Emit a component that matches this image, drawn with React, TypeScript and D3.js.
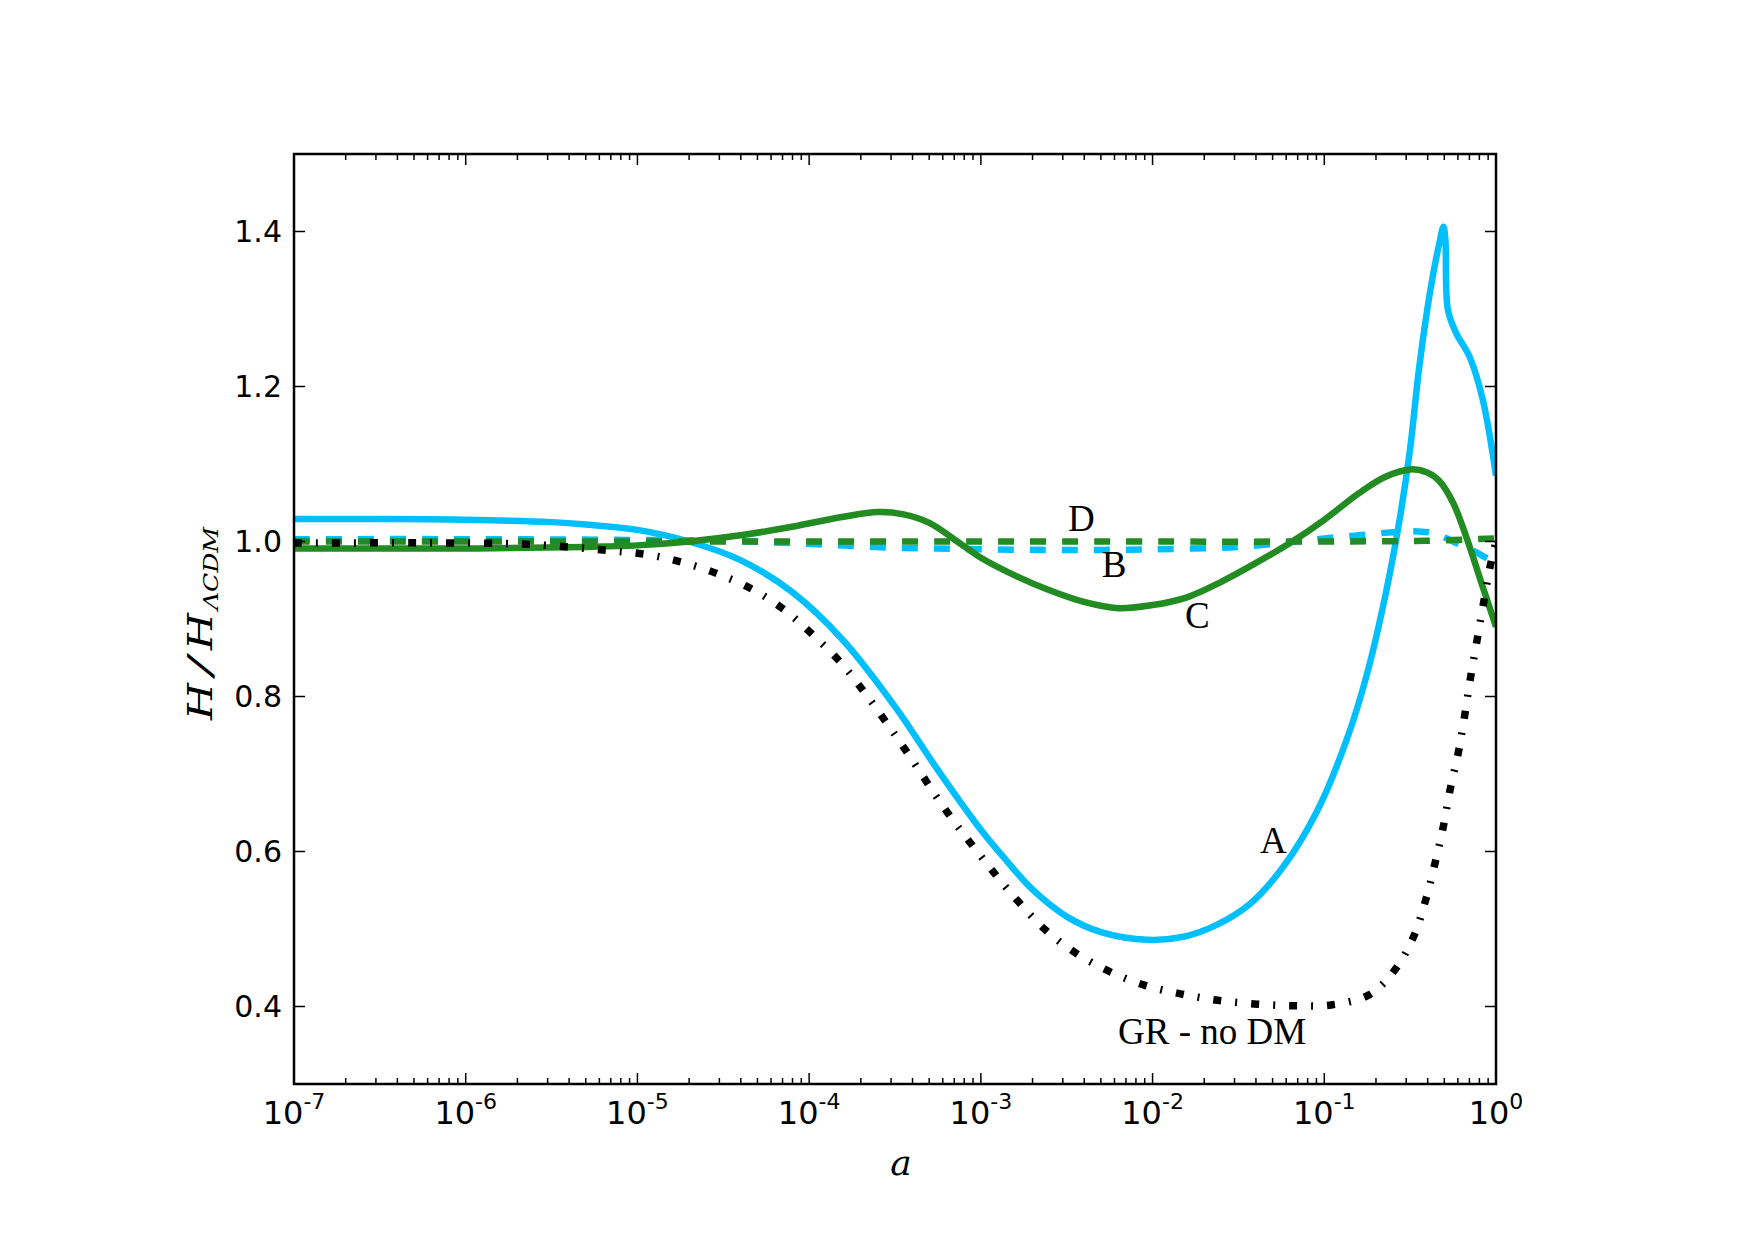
import React, { useEffect, useRef } from 'react';
import * as d3 from 'd3';

// curve data: x is log10(a), y is H/H_LCDM
const LOG_A_A = [-7, -6.5, -6, -5.5, -5.3, -5, -4.7, -4.4, -4.1, -3.8, -3.5, -3.25, -3, -2.85, -2.7, -2.5, -2.3, -2.03, -1.82, -1.63, -1.43, -1.24, -1.04, -0.87, -0.75, -0.64, -0.56, -0.5, -0.45, -0.4, -0.37, -0.33, -0.306, -0.295, -0.28, -0.232, -0.155, -0.077, 0];
const VAL_A = [1.029, 1.029, 1.028, 1.025, 1.022, 1.015, 1.0, 0.976, 0.935, 0.872, 0.787, 0.705, 0.628, 0.588, 0.551, 0.516, 0.496, 0.486, 0.49, 0.505, 0.533, 0.58, 0.653, 0.744, 0.83, 0.935, 1.03, 1.12, 1.22, 1.3, 1.34, 1.385, 1.406, 1.39, 1.299, 1.269, 1.239, 1.183, 1.085];

const LOG_A_B = [-7, -6, -5, -4.5, -4, -3.5, -3, -2.5, -2, -1.5, -1.2, -1, -0.8, -0.6, -0.45, -0.35, -0.25, -0.15, -0.05, 0];
const VAL_B = [1.003, 1.003, 1.002, 1.001, 0.997, 0.992, 0.99, 0.989, 0.99, 0.993, 0.999, 1.004, 1.008, 1.012, 1.013, 1.01, 1.0, 0.99, 0.978, 0.972];

const LOG_A_C = [-7, -6, -5.3, -5, -4.7, -4.4, -4.1, -3.8, -3.6, -3.45, -3.3, -3.15, -3, -2.8, -2.6, -2.4, -2.2, -2, -1.8, -1.6, -1.4, -1.2, -1, -0.8, -0.65, -0.5, -0.4, -0.33, -0.25, -0.17, -0.09, 0];
const VAL_C = [0.991, 0.991, 0.993, 0.995, 1.0, 1.008, 1.019, 1.032, 1.038, 1.035, 1.024, 1.002, 0.979, 0.956, 0.937, 0.922, 0.914, 0.918, 0.928, 0.948, 0.972, 0.998, 1.028, 1.062, 1.083, 1.093, 1.089, 1.078, 1.05, 1.004, 0.95, 0.89];

const LOG_A_D = [-7, -3, -1, -0.4, 0];
const VAL_D = [1.0, 1.0, 1.0, 1.001, 1.004];

const LOG_A_GR = [-7, -6, -5.6, -5.15, -4.94, -4.735, -4.53, -4.32, -4.14, -3.976, -3.813, -3.68, -3.546, -3.427, -3.2, -3, -2.8, -2.62, -2.44, -2.25, -2.04, -1.83, -1.62, -1.39, -1.17, -0.96, -0.74, -0.59, -0.48, -0.41, -0.355, -0.307, -0.268, -0.22, -0.19, -0.15, -0.11, -0.073, -0.035, 0];
const VAL_GR = [0.998, 0.998, 0.996, 0.988, 0.983, 0.973, 0.958, 0.937, 0.911, 0.879, 0.843, 0.806, 0.765, 0.727, 0.652, 0.594, 0.54, 0.498, 0.468, 0.445, 0.427, 0.416, 0.408, 0.403, 0.401, 0.402, 0.415, 0.447, 0.49, 0.537, 0.585, 0.632, 0.679, 0.727, 0.765, 0.822, 0.873, 0.92, 0.967, 1.0];

// curve labels, placed in data coordinates (log10 a, value)
const LABEL_TEXT = ['D', 'B', 'C', 'A', 'GR - no DM'];
const LABEL_LOG_A = [-2.492, -2.296, -1.811, -1.374, -2.201];
const LABEL_VAL = [1.014, 0.9545, 0.888, 0.598, 0.352];

const Y_TICKS = [0.4, 0.6, 0.8, 1.0, 1.2, 1.4];
const X_EXPONENTS = [-7, -6, -5, -4, -3, -2, -1, 0];

const W = 1755;
const H = 1240;
const M = { left: 294, right: 1496, top: 154, bottom: 1084 };

export default function App() {
  const svgRef = useRef<SVGSVGElement | null>(null);

  useEffect(() => {
    const svgEl = svgRef.current;
    if (!svgEl) return;
    const svg = d3.select(svgEl);
    svg.selectAll('*').remove();

    const x = d3.scaleLog().domain([1e-7, 1]).range([M.left, M.right]);
    const y = d3.scaleLinear().domain([0.3, 1.5]).range([M.bottom, M.top]);

    svg.append('rect').attr('width', W).attr('height', H).attr('fill', '#fff');

    svg
      .append('clipPath')
      .attr('id', 'plot-clip')
      .append('rect')
      .attr('x', M.left)
      .attr('y', M.top)
      .attr('width', M.right - M.left)
      .attr('height', M.bottom - M.top);

    const line = d3
      .line<[number, number]>()
      .x(d => x(Math.pow(10, d[0])))
      .y(d => y(d[1]))
      .curve(d3.curveCatmullRom.alpha(0.5));

    const series = [
      { lx: LOG_A_A, v: VAL_A, color: '#00bfff', width: 6.5, dash: null },
      { lx: LOG_A_B, v: VAL_B, color: '#00bfff', width: 6.5, dash: '16 16' },
      { lx: LOG_A_C, v: VAL_C, color: '#228b22', width: 6.5, dash: null },
      { lx: LOG_A_D, v: VAL_D, color: '#228b22', width: 6.5, dash: '16 16' },
      { lx: LOG_A_GR, v: VAL_GR, color: '#000', width: 7.5, dash: '8 14 2 14' },
    ];

    const lines = svg.append('g').attr('clip-path', 'url(#plot-clip)');
    series.forEach(s => {
      const pts = s.lx.map((l, i) => [l, s.v[i]] as [number, number]);
      const p = lines
        .append('path')
        .attr('d', line(pts))
        .attr('fill', 'none')
        .attr('stroke', s.color)
        .attr('stroke-width', s.width)
        .attr('stroke-linejoin', 'round');
      if (s.dash) p.attr('stroke-dasharray', s.dash);
    });

    // Frame
    svg
      .append('rect')
      .attr('x', M.left)
      .attr('y', M.top)
      .attr('width', M.right - M.left)
      .attr('height', M.bottom - M.top)
      .attr('fill', 'none')
      .attr('stroke', '#000')
      .attr('stroke-width', 2.5);

    // Ticks (inward, all four sides)
    const ticks = svg.append('g').attr('stroke', '#000').attr('stroke-width', 1.5);
    const majorLen = 11;
    const minorLen = 6;
    x.ticks().forEach(t => {
      const isMajor = Math.abs(Math.log10(t) - Math.round(Math.log10(t))) < 1e-9;
      const len = isMajor ? majorLen : minorLen;
      const px = x(t);
      ticks.append('line').attr('x1', px).attr('x2', px).attr('y1', M.bottom).attr('y2', M.bottom - len);
      ticks.append('line').attr('x1', px).attr('x2', px).attr('y1', M.top).attr('y2', M.top + len);
    });
    Y_TICKS.forEach(t => {
      const py = y(t);
      ticks.append('line').attr('x1', M.left).attr('x2', M.left + majorLen).attr('y1', py).attr('y2', py);
      ticks.append('line').attr('x1', M.right).attr('x2', M.right - majorLen).attr('y1', py).attr('y2', py);
    });

    // Y tick labels
    svg
      .append('g')
      .selectAll('text')
      .data(Y_TICKS)
      .enter()
      .append('text')
      .attr('x', M.left - 12)
      .attr('y', d => y(d) + 10)
      .attr('text-anchor', 'end')
      .attr('font-family', 'DejaVu Sans')
      .attr('font-size', 30)
      .attr('fill', '#000')
      .text(d => d.toFixed(1));

    // X tick labels 10^n
    const xl = svg
      .append('g')
      .selectAll('text')
      .data(X_EXPONENTS)
      .enter()
      .append('text')
      .attr('x', d => x(Math.pow(10, d)))
      .attr('y', 1124)
      .attr('text-anchor', 'middle')
      .attr('font-family', 'DejaVu Sans')
      .attr('font-size', 32)
      .attr('fill', '#000');
    xl.append('tspan').text('10');
    xl.append('tspan')
      .attr('font-size', 22)
      .attr('dy', -15)
      .text(d => (d === 0 ? '0' : `-${-d}`));

    // Axis label a
    svg
      .append('text')
      .attr('x', 901)
      .attr('y', 1175)
      .attr('text-anchor', 'middle')
      .attr('font-family', 'DejaVu Serif')
      .attr('font-style', 'italic')
      .attr('font-size', 36)
      .text('a');

    // Y label H/H_ΛCDM (rotated)
    const yl = svg.append('g').attr('transform', 'translate(211.7,720) rotate(-90)');
    const pieces = [
      { t: 'H', x0: 0, len: 37, size: 34, dy: 0 },
      { t: '/', x0: 45, len: 18, size: 34, dy: 0 },
      { t: 'H', x0: 70, len: 37, size: 34, dy: 0 },
      { t: 'ΛCDM', x0: 110, len: 83, size: 20, dy: 6.6 },
    ];
    pieces.forEach(p => {
      yl.append('text')
        .attr('x', p.x0)
        .attr('y', p.dy)
        .attr('font-family', 'DejaVu Serif')
        .attr('font-style', 'italic')
        .attr('font-size', p.size)
        .attr('textLength', p.len)
        .attr('lengthAdjust', 'spacingAndGlyphs')
        .text(p.t);
    });

    // Curve labels
    svg
      .append('g')
      .selectAll('text')
      .data(LABEL_TEXT)
      .enter()
      .append('text')
      .attr('x', (d, i) => x(Math.pow(10, LABEL_LOG_A[i])))
      .attr('y', (d, i) => y(LABEL_VAL[i]))
      .attr('font-family', 'Liberation Serif')
      .attr('font-size', 37)
      .attr('fill', '#000')
      .text(d => d);
  }, []);

  return (
    <svg
      ref={svgRef}
      width={W}
      height={H}
      style={{ position: 'absolute', left: 0, top: 0, display: 'block' }}
    />
  );
}
